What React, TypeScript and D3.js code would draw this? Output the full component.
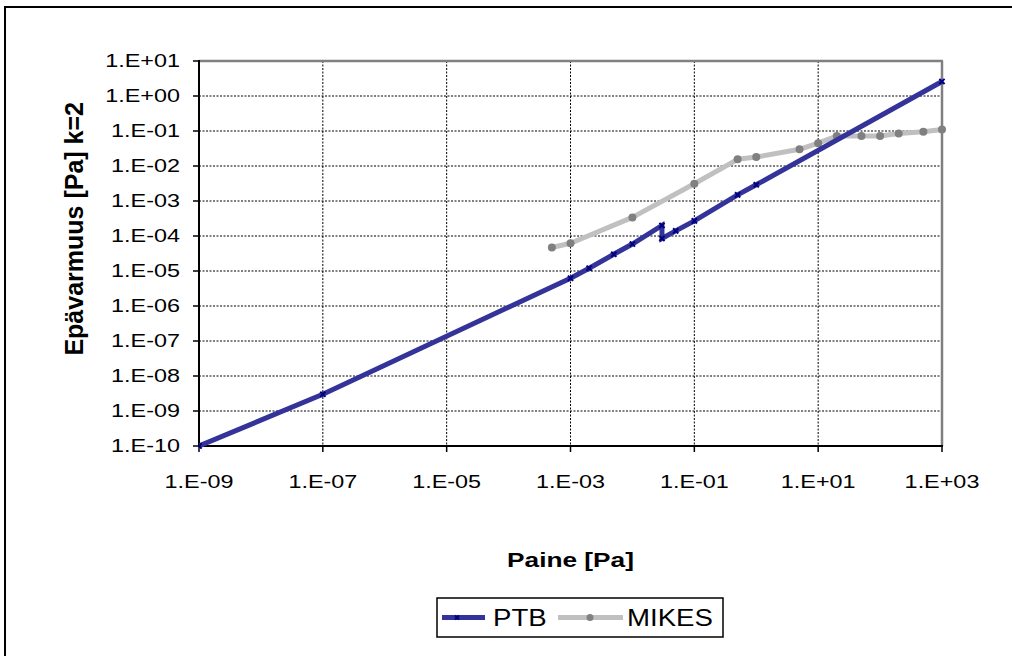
import React, { useEffect } from "react";
import * as d3 from "d3";

const xTicks = [1e-9, 1e-7, 1e-5, 1e-3, 1e-1, 1e1, 1e3];
const yTicks = [1e-10, 1e-9, 1e-8, 1e-7, 1e-6, 1e-5, 1e-4, 1e-3, 1e-2, 1e-1, 1e0, 1e1];

const ptbX = [1e-9, 1e-7, 1e-3, 2e-3, 5e-3, 1e-2, 3e-2, 3e-2, 5e-2, 0.1, 0.5, 1, 1000];
const ptbY = [1e-10, 3.0e-9, 6.2e-6, 1.2e-5, 3.0e-5, 5.9e-5, 2.0e-4, 8.5e-5, 1.4e-4, 2.7e-4, 1.5e-3, 2.9e-3, 2.6];

const mikesX = [5e-4, 1e-3, 1e-2, 0.1, 0.5, 1, 5, 10, 20, 50, 100, 200, 500, 1000];
const mikesY = [4.7e-5, 6.2e-5, 3.4e-4, 3.1e-3, 1.55e-2, 1.8e-2, 3.0e-2, 4.5e-2, 7.2e-2, 7.2e-2, 7.2e-2, 8.5e-2, 9.5e-2, 1.1e-1];

const seriesNames = ["PTB", "MIKES"];
const xTitle = "Paine [Pa]";
const yTitle = "Epävarmuus [Pa] k=2";

const FONT = "'Liberation Sans', Arial, sans-serif";
const PTB_COLOR = "#333399";
const PTB_MARK = "#000080";
const MIKES_COLOR = "#c0c0c0";
const MIKES_MARK = "#808080";

function fmt(v: number) {
  const e = Math.round(Math.log10(v));
  const s = e < 0 ? "-" : "+";
  const a = Math.abs(e);
  return `1.E${s}${a < 10 ? "0" + a : a}`;
}

function SText({
  x, y, anchor = "start", size, sx = 1, weight = "normal", dy, children,
}: {
  x: number; y: number; anchor?: string; size: number; sx?: number; weight?: string; dy?: string; children: React.ReactNode;
}) {
  return (
    <text
      transform={`translate(${x},${y}) scale(${sx},1)`}
      textAnchor={anchor as any}
      fontSize={size}
      fontWeight={weight}
      dy={dy}
      fill="#000"
    >
      {children}
    </text>
  );
}

function XMark({ x, y, s = 2.6 }: { x: number; y: number; s?: number }) {
  return (
    <path
      d={`M${x - s},${y - s}L${x + s},${y + s}M${x - s},${y + s}L${x + s},${y - s}`}
      stroke={PTB_MARK}
      strokeWidth={2}
      fill="none"
    />
  );
}

export default function App() {
  useEffect(() => {
    document.body.style.margin = "0";
  }, []);

  const L = 199, R = 942, T = 61, B = 446;
  const x = d3.scaleLog().domain([1e-9, 1e3]).range([L, R]);
  const y = d3.scaleLog().domain([1e-10, 1e1]).range([B, T]);

  const line = d3
    .line<[number, number]>()
    .x((d) => x(d[0]))
    .y((d) => y(d[1]));

  const ptb: [number, number][] = ptbX.map((v, i) => [v, ptbY[i]]);
  const mikes: [number, number][] = mikesX.map((v, i) => [v, mikesY[i]]);

  const legX = 437, legY = 598, legW = 286, legH = 39;
  const legMid = legY + legH / 2;
  const TICK_SX = 1.3;

  return (
    <svg width={1012} height={656} style={{ display: "block", background: "#fff" }} fontFamily={FONT}>
      <rect x={5} y={7} width={1100} height={700} fill="#fff" stroke="#000" strokeWidth={2} />
      <defs>
        <clipPath id="plotclip">
          <rect x={L} y={T - 3} width={R - L + 6} height={B - T + 6} />
        </clipPath>
      </defs>
      {yTicks.slice(1, -1).map((t) => (
        <line key={"gy" + t} x1={L} x2={R} y1={y(t)} y2={y(t)} stroke="#000" strokeWidth={1} strokeDasharray="2 1.5" />
      ))}
      {xTicks.slice(1, -1).map((t) => (
        <line key={"gx" + t} x1={x(t)} x2={x(t)} y1={T} y2={B} stroke="#000" strokeWidth={1} strokeDasharray="2 1.5" />
      ))}
      <line x1={L} x2={R + 1} y1={T} y2={T} stroke="#808080" strokeWidth={2.5} />
      <line x1={R} x2={R} y1={T} y2={B} stroke="#808080" strokeWidth={2.5} />
      <line x1={L} x2={L} y1={T - 1} y2={B + 1} stroke="#000" strokeWidth={2} />
      <line x1={L - 1} x2={R + 1} y1={B} y2={B} stroke="#000" strokeWidth={2} />
      {yTicks.map((t) => (
        <g key={"ty" + t}>
          <line x1={L - 6} x2={L} y1={y(t)} y2={y(t)} stroke="#000" strokeWidth={1.5} />
          <SText x={180} y={y(t)} dy="0.35em" anchor="end" size={18} sx={TICK_SX}>
            {fmt(t)}
          </SText>
        </g>
      ))}
      {xTicks.map((t) => (
        <g key={"tx" + t}>
          <line x1={x(t)} x2={x(t)} y1={B} y2={B + 6} stroke="#000" strokeWidth={1.5} />
          <SText x={x(t)} y={488} anchor="middle" size={18} sx={TICK_SX}>
            {fmt(t)}
          </SText>
        </g>
      ))}
      <g clipPath="url(#plotclip)">
        <path d={line(mikes) || ""} fill="none" stroke={MIKES_COLOR} strokeWidth={5} strokeLinejoin="round" />
        {mikes.map((d, i) => (
          <circle key={"m" + i} cx={x(d[0])} cy={y(d[1])} r={4} fill={MIKES_MARK} />
        ))}
        <path d={line(ptb) || ""} fill="none" stroke={PTB_COLOR} strokeWidth={5} strokeLinejoin="miter" />
        {ptb.map((d, i) => (
          <XMark key={"p" + i} x={x(d[0])} y={y(d[1])} />
        ))}
      </g>
      <SText x={(L + R) / 2} y={567} anchor="middle" size={21} sx={1.25} weight="bold">
        {xTitle}
      </SText>
      <text
        transform="translate(83, 102) rotate(-90)"
        textAnchor="end"
        fontSize={25}
        fontWeight="bold"
      >
        {yTitle}
      </text>
      <rect x={legX} y={legY} width={legW} height={legH} fill="#fff" stroke="#000" strokeWidth={1.5} />
      <line x1={legX + 5} x2={legX + 48} y1={legMid} y2={legMid} stroke={PTB_COLOR} strokeWidth={5} />
      <XMark x={legX + 20} y={legMid} s={2} />
      <SText x={legX + 56} y={legMid} dy="0.36em" size={23} sx={1.2}>
        {seriesNames[0]}
      </SText>
      <line x1={legX + 121} x2={legX + 186} y1={legMid} y2={legMid} stroke={MIKES_COLOR} strokeWidth={5} />
      <circle cx={legX + 153} cy={legMid} r={3.5} fill={MIKES_MARK} />
      <SText x={legX + 190} y={legMid} dy="0.36em" size={23} sx={1.2}>
        {seriesNames[1]}
      </SText>
    </svg>
  );
}
